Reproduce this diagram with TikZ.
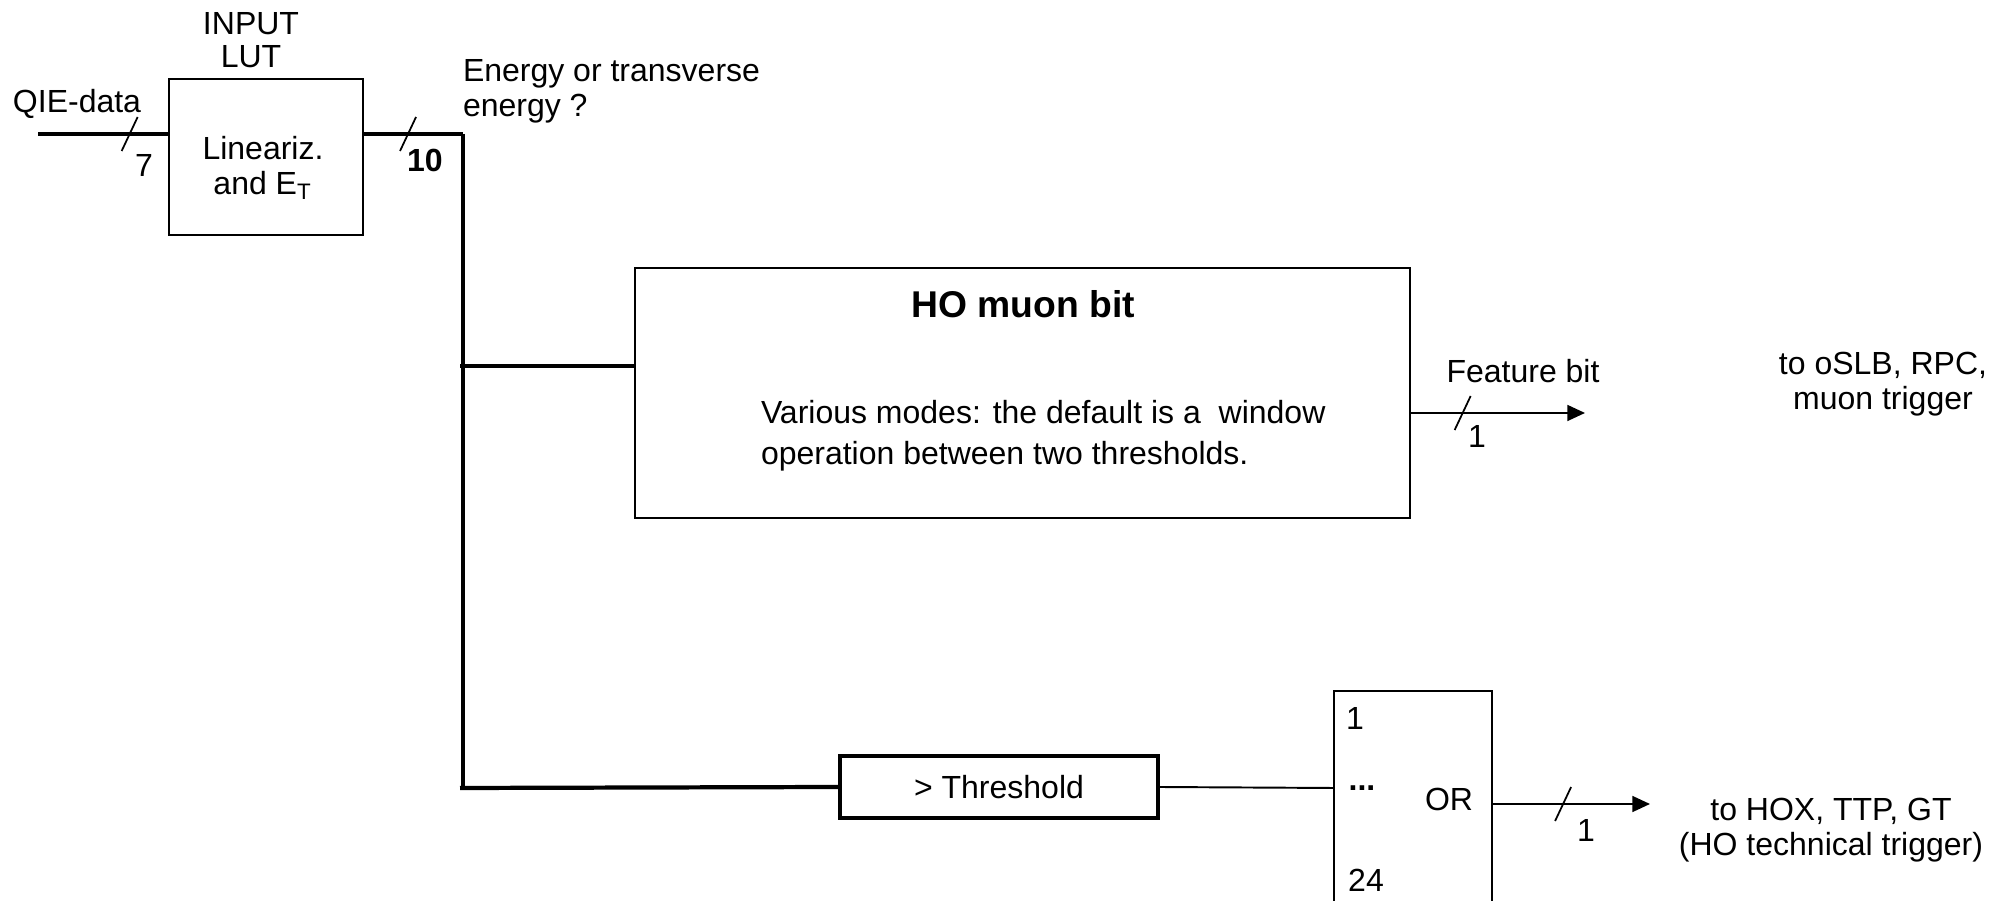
\documentclass[tikz,border=0pt]{standalone}
\usepackage{fontspec}
\setmainfont{Liberation Sans}
\usetikzlibrary{arrows.meta,calc}
\begin{document}
\begin{tikzpicture}[x=0.01cm,y=-0.01cm,
  every node/.style={inner sep=0pt,outer sep=0pt,font=\fontsize{9.1pt}{11.6pt}\selectfont},
  txt/.style={align=center},
  tight/.style={font=\fontsize{9.1pt}{9.9pt}\selectfont},
  ltxt/.style={align=left,anchor=west},
  box/.style={draw,line width=0.6pt},
  thickbox/.style={draw,line width=1.1pt},
  bus/.style={line width=1.2pt},
  wire/.style={line width=0.55pt},
  busmark/.style={line width=0.5pt},
  arr/.style={wire,-{Triangle[length=5pt,width=4.5pt]}}]
\useasboundingbox (0,0) rectangle (2005,901);

% blocks
\node[box,minimum width=1.94cm,minimum height=1.56cm] (lut) at (266,157) {};
\node[box,minimum width=7.75cm,minimum height=2.50cm] (muon) at (1022.5,393) {};
\node[thickbox,minimum width=3.18cm,minimum height=0.62cm] (thr) at (999,787) {};
\draw[box] (1334,905) -- (1334,691) -- (1492,691) -- (1492,905);
\coordinate (orW) at (1334,788);
\coordinate (orE) at (1492,804);

% texts
\node[txt,font=\fontsize{9.1pt}{9.5pt}\selectfont] (lutttl) at (251,40) {INPUT\\LUT};
\node[txt,tight] (luttxt) at (263,168) {Lineariz.\\and E\textsubscript{T}};
\node[txt] (qie) at (77,104) {QIE-data};
\node[ltxt,tight] (energy) at (463,91) {Energy or transverse\\energy ?};
\node[txt,font=\fontsize{10.6pt}{13pt}\selectfont\bfseries] (muonttl) at (1023,304) {HO muon bit};
\node[ltxt] (muontxt) at (761,436) {Various modes: the default is a\ \ window\\operation between two thresholds.};
\node[txt] (thrtxt) at (thr) {> Threshold};
\node[txt] (or1) at (1355,719) {1};
\node[txt] (ordots) at (1362,788) {\textbf{...}};
\node[txt] (ortxt) at (1449,799) {OR};
\node[txt] (or24) at (1366,880) {24};
\node[txt] (feat) at (1523,371) {Feature bit};
\node[txt,tight] (dest1) at (1883,384) {to oSLB, RPC,\\muon trigger};
\node[txt,tight] (dest2) at (1831,830) {to HOX, TTP, GT\\(HO technical trigger)};

% bus coordinates
\coordinate (qin) at (38,134);
\coordinate (btop) at (463,134);
\coordinate (bmid) at (460,366);
\coordinate (bbot) at (460,788);
\coordinate (fend) at (1585,413);
\coordinate (oend) at (1650,804);

% connectors
\draw[bus] (qin) -- (lut.west |- qin) coordinate[pos=0.7] (s0);
\draw[bus] (lut.east |- btop) -- (btop) coordinate[pos=0.45] (s1);
\draw[bus] (btop) -- (btop |- bbot);
\draw[bus] (bmid) -- (muon.west |- bmid);
\draw[bus] (bbot) -- (thr.west);
\draw[wire] (thr.east) -- (orW);
\draw[arr] (muon.east |- fend) -- (fend) coordinate[pos=0.3] (s2);
\draw[arr] (orE) -- (oend) coordinate[pos=0.45] (s3);

% bus width marks
\foreach \s in {s0,s1,s2,s3}
  \draw[busmark] ($(\s)+(-8,17)$) -- ($(\s)+(8,-17)$);
\node[txt] (w0) at (144,166) {7};
\node[txt,font=\fontsize{9.1pt}{11.6pt}\selectfont\bfseries] (w1) at (425,160) {10};
\node[txt] (w2) at (1477,437) {1};
\node[txt] (w3) at (1586,831) {1};
\end{tikzpicture}
\end{document}
